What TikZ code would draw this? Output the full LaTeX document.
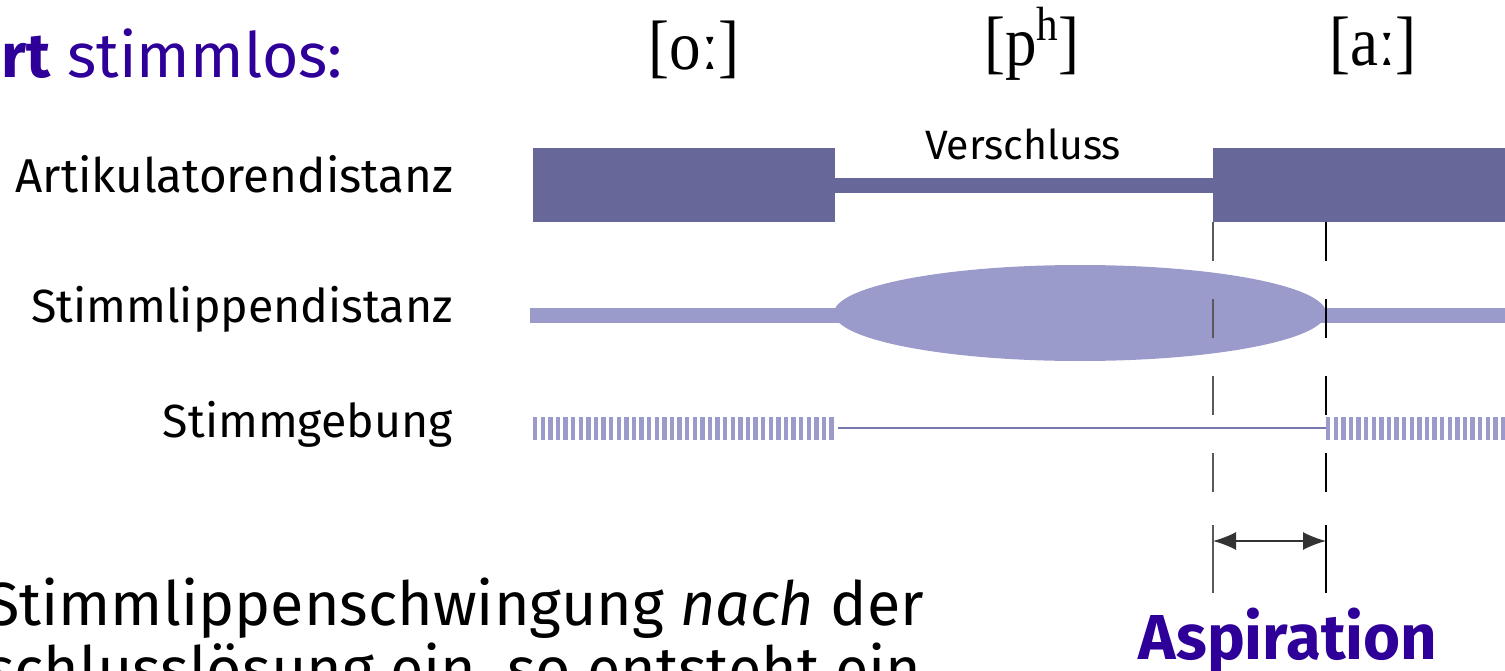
\documentclass[tikz,border=0pt]{standalone}
\usepackage{fontspec}
\setmainfont{Fira Sans}
\newfontfamily\ipafont{Liberation Serif}
\usetikzlibrary{arrows.meta}
\definecolor{darkbar}{HTML}{67679A}
\definecolor{lightbar}{HTML}{9B9BCB}
\definecolor{voiceline}{HTML}{7878B0}
\definecolor{indigo}{HTML}{2E0099}
\begin{document}
\begin{tikzpicture}[x=1pt,y=-1pt,
  rowlabel/.style={anchor=base east, inner sep=0pt, font=\fontsize{46.5}{52}\selectfont},
  ipa/.style={anchor=base, inner sep=0pt, font=\ipafont\fontsize{70}{74}\selectfont, xscale=0.9},
  bodytext/.style={anchor=base west, inner sep=0pt, font=\fontsize{61}{66}\selectfont},
  guide/.style={line width=1.6pt},
  dashedguide/.style={guide, dash pattern=on 39pt off 38pt},
  stripe/.style={fill=lightbar},
  dimarrow/.style={{Latex[length=23pt,width=18pt]}-{Latex[length=23pt,width=18pt]}, line width=1.6pt, black!80}]
\useasboundingbox (0,0) rectangle (1505,671);
\clip (0,0) rectangle (1505,671);

% heading
\node[anchor=base east, inner sep=0pt, text=indigo, font=\fontsize{62.5}{68}\selectfont] (head) at (343,78) {\textbf{rt} stimmlos:};

% IPA
\node[ipa] (o) at (694,70) {[oː]};
\node[ipa] (p) at (1032,66) {[p\raisebox{0.36em}{\fontsize{48}{50}\selectfont h}]};
\node[ipa] (a) at (1373,66) {[aː]};

% row labels
\node[rowlabel, font=\fontsize{47.5}{52}\selectfont] (art) at (453,193) {Artikulatorendistanz};
\node[rowlabel] (stl) at (453,322) {Stimmlippendistanz};
\node[rowlabel] (stg) at (453,437) {Stimmgebung};

% Artikulatorendistanz
\fill[darkbar] (533,148) rectangle (835,222);
\fill[darkbar] (835,178) rectangle (1213,193);
\fill[darkbar] (1213,148) rectangle (1505,222);
\node[anchor=base, inner sep=0pt, font=\fontsize{41}{46}\selectfont] (vers) at (1023,160) {Verschluss};

% Stimmlippendistanz
\fill[lightbar] (530,308) rectangle (840,323);
\fill[lightbar] (1080,313) ellipse [x radius=246, y radius=48];
\fill[lightbar] (1320,308) rectangle (1505,323);

% Stimmgebung
\foreach \x in {533,540.6,...,834} \fill[stripe] (\x,417) rectangle ++(4.3,23);
\foreach \x in {1326,1333.6,...,1505} \fill[stripe] (\x,417) rectangle ++(4.3,23);
\draw[voiceline, line width=1.5pt] (838,428) -- (1326,428);

% guides
\coordinate (g1top) at (1213,222);
\coordinate (g1mid) at (1213,500);
\coordinate (g1low) at (1213,525);
\coordinate (g1bot) at (1213,593);
\coordinate (g2top) at (1326,222);
\coordinate (g2mid) at (1326,500);
\coordinate (g2low) at (1326,525);
\coordinate (g2bot) at (1326,593);
\draw[dashedguide, black!65] (g1top) -- (g1mid);
\draw[guide, black!65] (g1low) -- (g1bot);
\draw[dashedguide, black] (g2top) -- (g2mid);
\draw[guide, black] (g2low) -- (g2bot);
\coordinate (al) at (1213,541);
\coordinate (ar) at (1326,541);
\draw[dimarrow] (al) -- (ar);

\node[anchor=base, inner sep=0pt, text=indigo, font=\bfseries\fontsize{63.5}{68}\selectfont] (asp) at (1288,659) {Aspiration};

% body text
\node[bodytext] (l1) at (-14,625) {Stimmlippenschwingung \textit{nach} der};
\node[bodytext] (l2) at (-14,690) {schlusslösung ein, so entsteht ein};
\end{tikzpicture}
\end{document}
